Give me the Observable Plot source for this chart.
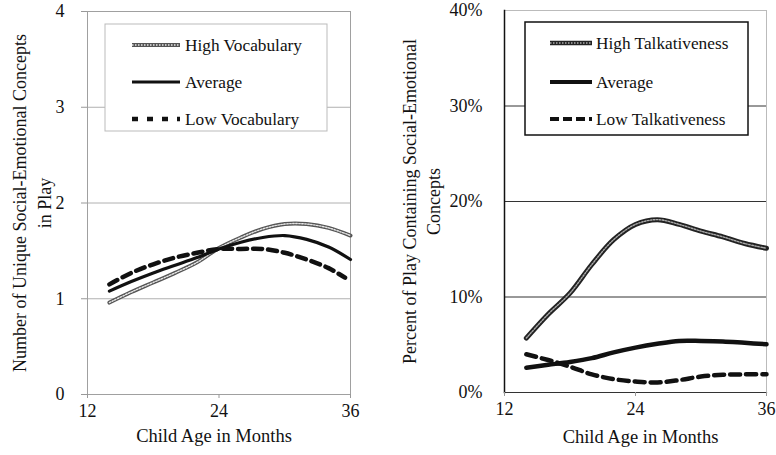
<!DOCTYPE html>
<html>
<head>
<meta charset="utf-8">
<script src="https://cdn.jsdelivr.net/npm/d3@7"></script>
<script src="https://cdn.jsdelivr.net/npm/@observablehq/plot@0.6"></script>
<style>
  html, body { margin: 0; padding: 0; background: white; }
  #wrap { position: relative; width: 776px; height: 455px; display: flex; font-family: "Liberation Serif", "Times New Roman", serif; }
  .legend { position: absolute; }
</style>
</head>
<body>
<div id="wrap"></div>
<script>
// ---- data ----
const ages = [14, 16, 18, 20, 22, 24, 26, 28, 30, 32, 34, 36];
const lowVocabAges = [14, 16, 18, 20, 22, 24, 26, 28, 30, 32, 34, 35.5];

const vocabHigh = [0.96, 1.07, 1.17, 1.27, 1.38, 1.53, 1.64, 1.73, 1.78, 1.78, 1.74, 1.66];
const vocabAvg  = [1.08, 1.18, 1.27, 1.35, 1.43, 1.52, 1.59, 1.64, 1.66, 1.62, 1.54, 1.41];
const vocabLow  = [1.15, 1.27, 1.36, 1.43, 1.48, 1.52, 1.52, 1.52, 1.48, 1.41, 1.32, 1.22];

const talkHigh = [5.7, 8.2, 10.4, 13.4, 16.0, 17.6, 18.1, 17.6, 16.9, 16.3, 15.6, 15.1];
const talkAvg  = [2.6, 2.9, 3.2, 3.6, 4.2, 4.7, 5.1, 5.4, 5.4, 5.35, 5.2, 5.05];
const talkLow  = [4.0, 3.4, 2.7, 1.9, 1.4, 1.15, 1.05, 1.3, 1.67, 1.85, 1.9, 1.9];

const xTicks = [12, 24, 36];
const leftYTicks = [0, 1, 2, 3, 4];
const rightYTicks = [0, 10, 20, 30, 40];

const leftSeries = ["High Vocabulary", "Average", "Low Vocabulary"];
const rightSeries = ["High Talkativeness", "Average", "Low Talkativeness"];

const xLabel = "Child Age in Months";
const leftYLabel = "Number of Unique Social-Emotional Concepts\nin Play";
const rightYLabel = "Percent of Play Containing Social-Emotional\nConcepts";

const rows = (xs, vs) => xs.map((a, i) => ({age: a, v: vs[i]}));

const font = "Liberation Serif";

// ---- left chart ----
const left = Plot.plot({
  width: 390, height: 455,
  marginLeft: 87, marginRight: 40, marginTop: 11, marginBottom: 61,
  style: {fontFamily: font, fontSize: "18px", color: "#111", background: "white", overflow: "visible"},
  x: {domain: [12, 36], label: null},
  y: {domain: [0, 4], label: null},
  marks: [
    Plot.gridY([1, 2, 3], {stroke: "#b0b0b0", strokeOpacity: 1}),
    Plot.frame({stroke: "#a0a0a0"}),
    Plot.axisY({ticks: leftYTicks, tickSize: 6, tickPadding: 17, label: null, stroke: "#999", tickFormat: d => String(d), fontSize: 18}),
    Plot.axisX({ticks: xTicks, tickSize: 4, tickPadding: 6, label: null, stroke: "#999", tickFormat: d => String(d), fontSize: 18}),
    Plot.line(rows(ages, vocabHigh), {x: "age", y: "v", curve: "catmull-rom", stroke: "#555", strokeWidth: 4}),
    Plot.line(rows(ages, vocabHigh), {x: "age", y: "v", curve: "catmull-rom", stroke: "#e6e6e6", strokeWidth: 1.4, strokeDasharray: "1.5,1.5"}),
    Plot.line(rows(ages, vocabAvg), {x: "age", y: "v", curve: "catmull-rom", stroke: "#111", strokeWidth: 3.2}),
    Plot.line(rows(lowVocabAges, vocabLow), {x: "age", y: "v", curve: "catmull-rom", stroke: "#111", strokeWidth: 4.5, strokeDasharray: "9,6"}),
    Plot.text([leftYLabel], {frameAnchor: "left", textAnchor: "middle", text: d => d, rotate: -90, dx: -57, fontSize: 18, lineHeight: 1.38, fill: "#111"}),
    Plot.text([xLabel], {frameAnchor: "bottom", text: d => d, dy: 47, dx: -5, fontSize: 18.5, fill: "#111"})
  ]
});

// ---- right chart ----
const right = Plot.plot({
  width: 386, height: 455,
  marginLeft: 114, marginRight: 10, marginTop: 10, marginBottom: 63,
  style: {fontFamily: font, fontSize: "18px", color: "#111", background: "white", overflow: "visible"},
  x: {domain: [12, 36], label: null},
  y: {domain: [0, 40], label: null},
  marks: [
    Plot.gridY([10, 20, 30], {stroke: "#333", strokeOpacity: 1}),
    Plot.frame({stroke: "#bbb"}),
    Plot.frame({anchor: "left", stroke: "#111", strokeWidth: 1.5}),
    Plot.frame({anchor: "bottom", stroke: "#333", strokeWidth: 1.2}),
    Plot.axisY({ticks: rightYTicks, tickSize: 0, tickPadding: 22, label: null, tickFormat: d => d + "%", fontSize: 18}),
    Plot.axisX({ticks: xTicks, tickSize: 4, tickPadding: 6, label: null, stroke: "#999", tickFormat: d => String(d), fontSize: 18}),
    Plot.line(rows(ages, talkHigh), {x: "age", y: "v", curve: "catmull-rom", stroke: "#222", strokeWidth: 5}),
    Plot.line(rows(ages, talkHigh), {x: "age", y: "v", curve: "catmull-rom", stroke: "#aaa", strokeWidth: 1.4, strokeDasharray: "1.5,1.5"}),
    Plot.line(rows(ages, talkAvg), {x: "age", y: "v", curve: "catmull-rom", stroke: "#111", strokeWidth: 4.5}),
    Plot.line(rows(ages, talkLow), {x: "age", y: "v", curve: "catmull-rom", stroke: "#111", strokeWidth: 4.5, strokeDasharray: "10,6"}),
    Plot.text([rightYLabel], {frameAnchor: "left", textAnchor: "middle", text: d => d, rotate: -90, dx: -84, fontSize: 18, lineHeight: 1.33, fill: "#111"}),
    Plot.text([xLabel], {frameAnchor: "bottom", text: d => d, dy: 50, dx: 5, fontSize: 18.5, fill: "#111"})
  ]
});

const wrap = document.getElementById("wrap");
wrap.appendChild(left);
wrap.appendChild(right);

// ---- legends ----
function legend(names, styles, box) {
  const svg = d3.create("svg")
    .attr("class", "legend")
    .attr("width", box.w + 4).attr("height", box.h + 4)
    .style("left", (box.x - 2) + "px").style("top", (box.y - 2) + "px");
  svg.append("rect").attr("x", 2).attr("y", 2).attr("width", box.w).attr("height", box.h)
    .attr("fill", "white").attr("stroke", box.stroke).attr("stroke-width", box.sw);
  names.forEach((n, i) => {
    const y = 2 + box.rows[i];
    styles[i].forEach(s => {
      svg.append("line").attr("x1", 2 + box.l0).attr("x2", 2 + box.l1).attr("y1", y).attr("y2", y)
        .attr("stroke", s.stroke).attr("stroke-width", s.w).attr("stroke-dasharray", s.dash || null);
    });
    svg.append("text").attr("x", 2 + box.tx).attr("y", y).attr("dy", "0.35em")
      .attr("font-family", font).attr("font-size", 17.3).attr("fill", "#111").text(n);
  });
  wrap.appendChild(svg.node());
}

legend(leftSeries, [
  [{stroke: "#555", w: 4}, {stroke: "#e6e6e6", w: 1.4, dash: "1.5,1.5"}],
  [{stroke: "#111", w: 3.2}],
  [{stroke: "#111", w: 4.5, dash: "6,9"}]
], {x: 105, y: 24, w: 222, h: 107, stroke: "#bbb", sw: 1, rows: [21, 58, 95], l0: 27, l1: 75, tx: 80});

legend(rightSeries, [
  [{stroke: "#222", w: 4.5}, {stroke: "#aaa", w: 1.4, dash: "1.5,1.5"}],
  [{stroke: "#111", w: 4}],
  [{stroke: "#111", w: 4, dash: "9,4"}]
], {x: 525, y: 22, w: 223, h: 113, stroke: "#111", sw: 1.5, rows: [21, 60, 97], l0: 25, l1: 67, tx: 71});
</script>
</body>
</html>
